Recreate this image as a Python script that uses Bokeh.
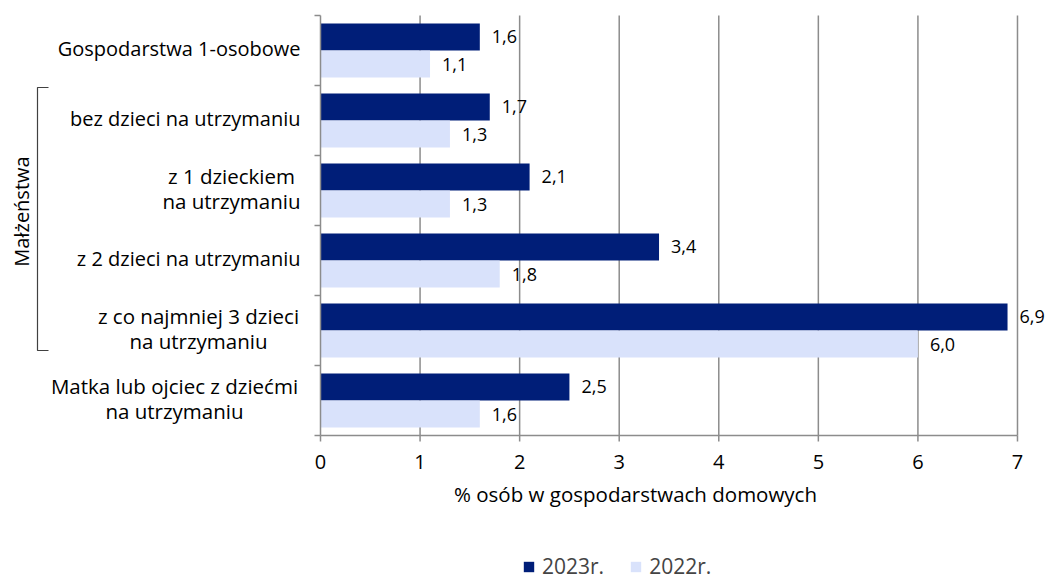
from bokeh.plotting import figure
from bokeh.models import Range1d, ColumnDataSource, Legend, LegendItem
from bokeh.core.properties import value
from bokeh.embed import file_html
from bokeh.resources import INLINE
import math

# ---- data ----
categories = ["Gospodarstwa 1-osobowe",
              "bez dzieci na utrzymaniu",
              "z 1 dzieckiem\nna utrzymaniu",
              "z 2 dzieci na utrzymaniu",
              "z co najmniej 3 dzieci\nna utrzymaniu",
              "Matka lub ojciec z dziećmi\nna utrzymaniu"]
v2023 = [1.6, 1.7, 2.1, 3.4, 6.9, 2.5]
v2022 = [1.1, 1.3, 1.3, 1.8, 6.0, 1.6]
series_names = ["2023r.", "2022r."]
x_ticks = [0, 1, 2, 3, 4, 5, 6, 7]
group_label = "Małżeństwa"
x_title = "% osób w gospodarstwach domowych"

# ---- layout / style ----
FONT = value("Open Sans")
DARK = "#001E78"
LIGHT = "#D9E2FB"
GRID = "#8C8C8C"
W, H = 1046, 580
X0 = 320          # px of value 0
PXU = 99.57       # px per value unit
Y0 = 15           # px of plot top
PYC = 70          # px per category


def dx(px):  # px -> data x
    return (px - X0) / PXU


def dy(py):  # px -> data y
    return (py - Y0) / PYC


p = figure(width=W, height=H, output_backend="svg", toolbar_location=None,
           x_range=Range1d(dx(0), dx(W)), y_range=Range1d(dy(H), dy(0)),
           min_border=0, x_axis_type=None, y_axis_type=None)
p.outline_line_color = None
p.grid.visible = False
p.background_fill_color = "white"
p.border_fill_color = "white"

n = len(categories)
centers = [i + 0.5 for i in range(n)]
ymax = float(n)
xmax = float(x_ticks[-1])

# grid lines
gx = x_ticks[1:]
p.segment(x0=gx, y0=[0] * len(gx), x1=gx, y1=[ymax] * len(gx),
          line_color=GRID, line_width=1.5)

# bars
bh = 0.386
src = ColumnDataSource(dict(
    y23=[c - bh / 2 for c in centers], y22=[c + bh / 2 for c in centers],
    v23=v2023, v22=v2022,
    t23=[f"{v:.1f}".replace(".", ",") for v in v2023],
    t22=[f"{v:.1f}".replace(".", ",") for v in v2022]))

r23 = p.hbar(y="y23", right="v23", left=0, height=bh, source=src,
             fill_color=DARK, line_color=None)
r22 = p.hbar(y="y22", right="v22", left=0, height=bh, source=src,
             fill_color=LIGHT, line_color=None)

# axes
p.segment(x0=[0, 0], y0=[0, ymax], x1=[0, xmax], y1=[ymax, ymax],
          line_color=GRID, line_width=1.5)
yt = list(range(n + 1))
p.segment(x0=[0] * len(yt), y0=yt, x1=[dx(X0 - 6)] * len(yt), y1=yt,
          line_color=GRID, line_width=1.5)
p.segment(x0=x_ticks, y0=[ymax] * len(x_ticks), x1=x_ticks,
          y1=[ymax + 6 / PYC] * len(x_ticks), line_color=GRID, line_width=1.5)
p.text(x=x_ticks, y=[ymax] * len(x_ticks), text=[str(t) for t in x_ticks],
       y_offset=26, text_align="center", text_baseline="middle",
       text_font=FONT, text_font_size="20px", text_color="black")

# value labels
for vc, yc, tc in (("v23", "y23", "t23"), ("v22", "y22", "t22")):
    p.text(x=vc, y=yc, text=tc, source=src, x_offset=12,
           text_align="left", text_baseline="middle",
           text_font=FONT, text_font_size="18px", text_color="black")

# category labels
centers_px = {2: 231, 4: 198, 5: 174}
for i, cat in enumerate(categories):
    lines = cat.split("\n")
    if len(lines) == 1:
        p.text(x=[dx(300)], y=[centers[i]], text=[lines[0]], y_offset=-2,
               text_align="right", text_baseline="middle",
               text_font=FONT, text_font_size="20px", text_color="black")
    else:
        cx = dx(centers_px[i])
        p.text(x=[cx, cx], y=[centers[i], centers[i]], text=lines,
               y_offset=[-15, 10],
               text_align="center", text_baseline="middle",
               text_font=FONT, text_font_size="20.5px", text_color="black")

# bracket for the group
bx, bx2 = dx(37), dx(48)
bt, bb = dy(87), dy(350)
p.multi_line(xs=[[bx2, bx, bx, bx2]], ys=[[bt, bt, bb, bb]],
             line_color="#404040", line_width=1.2)
p.text(x=[dx(21)], y=[dy(211)], text=[group_label], angle=math.pi / 2,
       text_align="center", text_baseline="middle",
       text_font=FONT, text_font_size="20px", text_color="black")

# x title
p.text(x=[dx(635)], y=[dy(493)], text=[x_title],
       text_align="center", text_baseline="middle",
       text_font=FONT, text_font_size="20.5px", text_color="black")

legend = Legend(items=[LegendItem(label=series_names[0], renderers=[r23]),
                       LegendItem(label=series_names[1], renderers=[r22])],
                orientation="horizontal", location=(522, 0),
                glyph_width=13, glyph_height=13, label_standoff=7, spacing=25,
                padding=0, margin=0, border_line_color=None,
                background_fill_alpha=0, label_text_font="Open Sans",
                label_text_font_size="21px")
p.add_layout(legend)

open("out.html", "w").write(file_html(p, INLINE))
